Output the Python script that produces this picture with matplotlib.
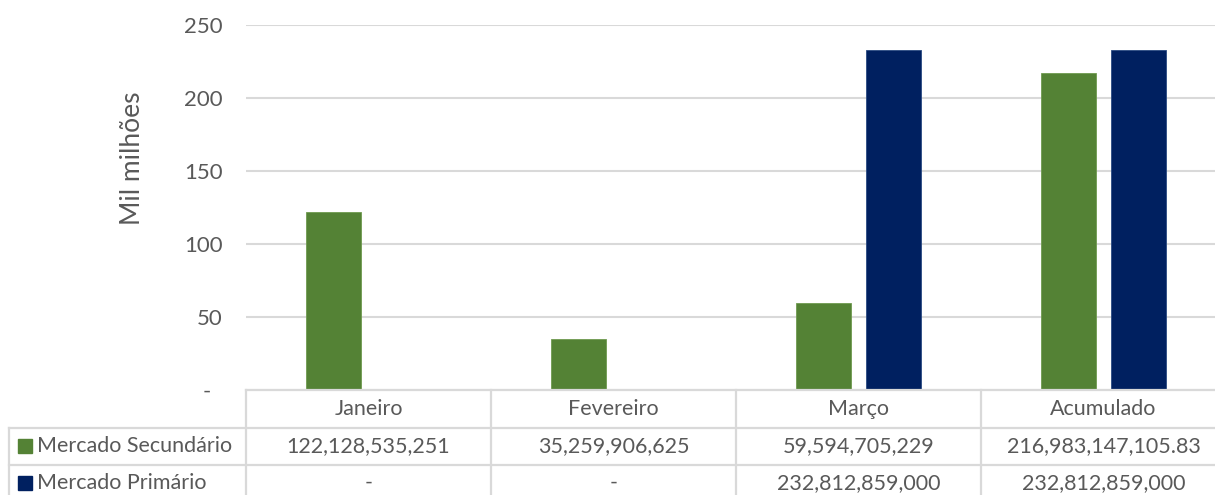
import matplotlib
matplotlib.use("Agg")
import matplotlib.pyplot as plt
from matplotlib.patches import Rectangle

# Data
categories = ["Janeiro", "Fevereiro", "Março", "Acumulado"]
series_names = ["Mercado Secundário", "Mercado Primário"]
secundario = [122128535251, 35259906625, 59594705229, 216983147105.83]
primario = [0, 0, 232812859000, 232812859000]
y_ticks = [0, 50, 100, 150, 200, 250]
y_tick_labels = ["-  ", "50", "100", "150", "200", "250"]
y_label = "Mil milhões"

colors = ["#548235", "#002060"]
text_color = "#595959"
line_color = "#D9D9D9"
font = "Lato"

W, H = 1215, 495
fig = plt.figure(figsize=(W / 100, H / 100), dpi=100)

# Plot area in pixel units: x 246..1226 (runs off the right edge), y 25..390
ax_left, ax_right, ax_top, ax_bottom = 246, 1226, 25, 390
ax = fig.add_axes([ax_left / W, (H - ax_bottom) / H,
                   (ax_right - ax_left) / W, (ax_bottom - ax_top) / H])

n = len(categories)
bar_w = 0.2245
offset = 0.143
xs = list(range(n))
scale = 1e9
ax.bar([x - offset for x in xs], [v / scale for v in secundario], width=bar_w,
       color=colors[0], edgecolor="#6f9a4f", linewidth=0.6, zorder=3)
ax.bar([x + offset for x in xs], [v / scale for v in primario], width=bar_w,
       color=colors[1], edgecolor="#2a4a82", linewidth=0.6, zorder=3)

ax.set_xlim(-0.5, n - 0.5)
ax.set_ylim(0, 250)
ax.set_yticks(y_ticks)
ax.set_yticklabels(y_tick_labels, fontsize=16, color=text_color, family=font)
ax.tick_params(axis="y", length=0, pad=17)
ax.set_xticks([])
ax.yaxis.grid(True, color=line_color, linewidth=1.5, zorder=0)
for s in ax.spines.values():
    s.set_visible(False)

# Data table and axis title drawn in pixel coordinates
tab = fig.add_axes([0, 0, 1, 1], zorder=5)
tab.set_xlim(0, W)
tab.set_ylim(H, 0)
tab.axis("off")
tab.patch.set_alpha(0)

tab.text(133, 158, y_label, rotation=90, ha="center", va="center",
         fontsize=19, color=text_color, family=font)

col_w = (ax_right - ax_left) / n
col_x = [ax_left + i * col_w for i in range(n + 1)]
rows_y = [390, 427.5, 465, 503]
leg_x = 9
lw = 1.6

tab.plot([ax_left, ax_right], [rows_y[0]] * 2, color=line_color, lw=lw, clip_on=False)
for y in rows_y[1:]:
    tab.plot([leg_x, ax_right], [y, y], color=line_color, lw=lw, clip_on=False)
for x in col_x:
    tab.plot([x, x], [rows_y[0], rows_y[-1]], color=line_color, lw=lw, clip_on=False)
tab.plot([leg_x, leg_x], [rows_y[1], rows_y[-1]], color=line_color, lw=lw, clip_on=False)


def fmt(v):
    if v == 0:
        return "-"
    if float(v).is_integer():
        return f"{v:,.0f}"
    return f"{v:,.2f}"


txt_kw = dict(fontsize=15.5, color=text_color, family=font, va="center")
for i, c in enumerate(categories):
    cx = (col_x[i] + col_x[i + 1]) / 2
    tab.text(cx, (rows_y[0] + rows_y[1]) / 2, c, ha="center", **txt_kw)

for r, (name, vals, col) in enumerate(zip(series_names, [secundario, primario], colors)):
    cy = (rows_y[r + 1] + rows_y[r + 2]) / 2
    if r == 1:
        cy = 483
    tab.add_patch(Rectangle((18, cy - 7), 14, 14, color=col))
    tab.text(37, cy, name, ha="left", **txt_kw)
    for i, v in enumerate(vals):
        cx = (col_x[i] + col_x[i + 1]) / 2
        tab.text(cx, cy, fmt(v), ha="center", **txt_kw)

fig.savefig("out.png", dpi=100)
